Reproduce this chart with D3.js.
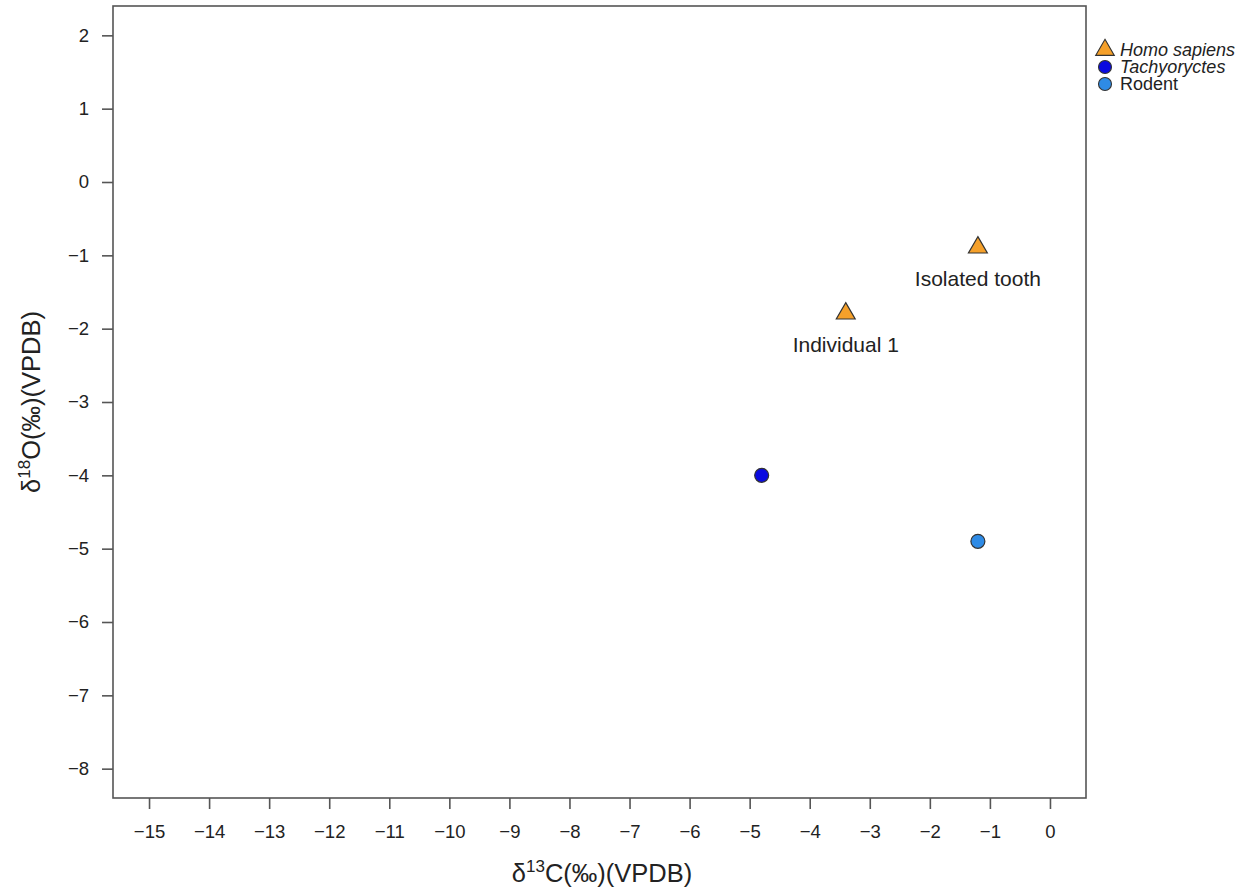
<!DOCTYPE html>
<html><head><meta charset="utf-8">
<script src="https://cdn.jsdelivr.net/npm/d3@7"></script>
<style>body{margin:0;background:#fff}svg{display:block}text{font-family:"Liberation Sans",Arial,sans-serif;fill:#222}</style>
</head><body>
<svg id="c" width="1256" height="890"></svg>
<script>
const xTicks = [-15,-14,-13,-12,-11,-10,-9,-8,-7,-6,-5,-4,-3,-2,-1,0];
const yTicks = [2,1,0,-1,-2,-3,-4,-5,-6,-7,-8];
const groups = ["Homo sapiens","Tachyoryctes","Rodent"];
const groupColors = ["#F5A02A","#0A0AE0","#2E8BE6"];
const groupShapes = ["triangle","circle","circle"];
const groupItalic = [true,true,false];
const pointLabels = ["Isolated tooth","Individual 1","Tachyoryctes","Rodent"];
const pointGroup = [0,0,1,2];
const d13C = [-1.2,-3.4,-4.8,-1.2];
const d18O = [-0.88,-1.78,-4.0,-4.9];
const showLabel = [true,true,false,false];

const svg = d3.select("#c");
const x = d3.scaleLinear().domain([-15.6,0.6]).range([113,1086]);
const y = d3.scaleLinear().domain([-8.4,2.4]).range([798,6]);
const axisCol = "#555";

svg.append("rect").attr("x",113).attr("y",6).attr("width",973).attr("height",792)
  .attr("fill","none").attr("stroke",axisCol).attr("stroke-width",1.6);

const gx = svg.append("g").attr("transform","translate(0,798)")
  .call(d3.axisBottom(x).tickValues(xTicks).tickSize(11).tickPadding(16).tickFormat(d=>d<0?"\u2212"+Math.abs(d):d));
const gy = svg.append("g").attr("transform","translate(113,0)")
  .call(d3.axisLeft(y).tickValues(yTicks).tickSize(11).tickPadding(13).tickFormat(d=>d<0?"\u2212"+Math.abs(d):d));
[gx,gy].forEach(g=>{
  g.select(".domain").remove();
  g.selectAll(".tick line").attr("stroke",axisCol).attr("stroke-width",1.6);
  g.selectAll(".tick text").attr("font-size",18.5).attr("fill","#222").attr("font-family","Liberation Sans, Arial, sans-serif");
});

const tri = d3.symbol().type(d3.symbolTriangle).size(155);
const pts = svg.append("g");
pointLabels.forEach((lab,i)=>{
  const g = pointGroup[i];
  const cx = x(d13C[i]), cy = y(d18O[i]);
  if(groupShapes[g]==="triangle"){
    pts.append("path").attr("d",tri).attr("transform",`translate(${cx},${cy+1})`)
      .attr("fill",groupColors[g]).attr("stroke","#333").attr("stroke-width",1.2);
  } else {
    pts.append("circle").attr("cx",cx).attr("cy",cy).attr("r",7)
      .attr("fill",groupColors[g]).attr("stroke","#333").attr("stroke-width",1.2);
  }
  if(showLabel[i]){
    pts.append("text").attr("x",cx).attr("y",cy+39).attr("text-anchor","middle")
      .attr("font-size",21).text(lab);
  }
});

const leg = svg.append("g");
groups.forEach((gname,i)=>{
  const ly = 50 + i*17;
  if(groupShapes[i]==="triangle"){
    leg.append("path").attr("d",d3.symbol().type(d3.symbolTriangle).size(150)).attr("transform",`translate(1105,${ly})`)
      .attr("fill",groupColors[i]).attr("stroke","#333").attr("stroke-width",1.1);
  } else {
    leg.append("circle").attr("cx",1105).attr("cy",ly).attr("r",6.5)
      .attr("fill",groupColors[i]).attr("stroke","#333").attr("stroke-width",1.1);
  }
  leg.append("text").attr("x",1120).attr("y",ly+6).attr("font-size",18)
    .attr("font-style",groupItalic[i]?"italic":"normal").text(gname);
});

const xl = svg.append("text").attr("x",602).attr("y",882).attr("text-anchor","middle").attr("font-size",25.5);
xl.append("tspan").text("\u03B4");
xl.append("tspan").attr("dy",-10).attr("font-size",17).text("13");
xl.append("tspan").attr("dy",10).text("C(\u2030)(VPDB)");

const yl = svg.append("text").attr("transform","translate(40,402) rotate(-90)").attr("text-anchor","middle").attr("font-size",25.5);
yl.append("tspan").text("\u03B4");
yl.append("tspan").attr("dy",-10).attr("font-size",17).text("18");
yl.append("tspan").attr("dy",10).text("O(\u2030)(VPDB)");
</script>
</body></html>
